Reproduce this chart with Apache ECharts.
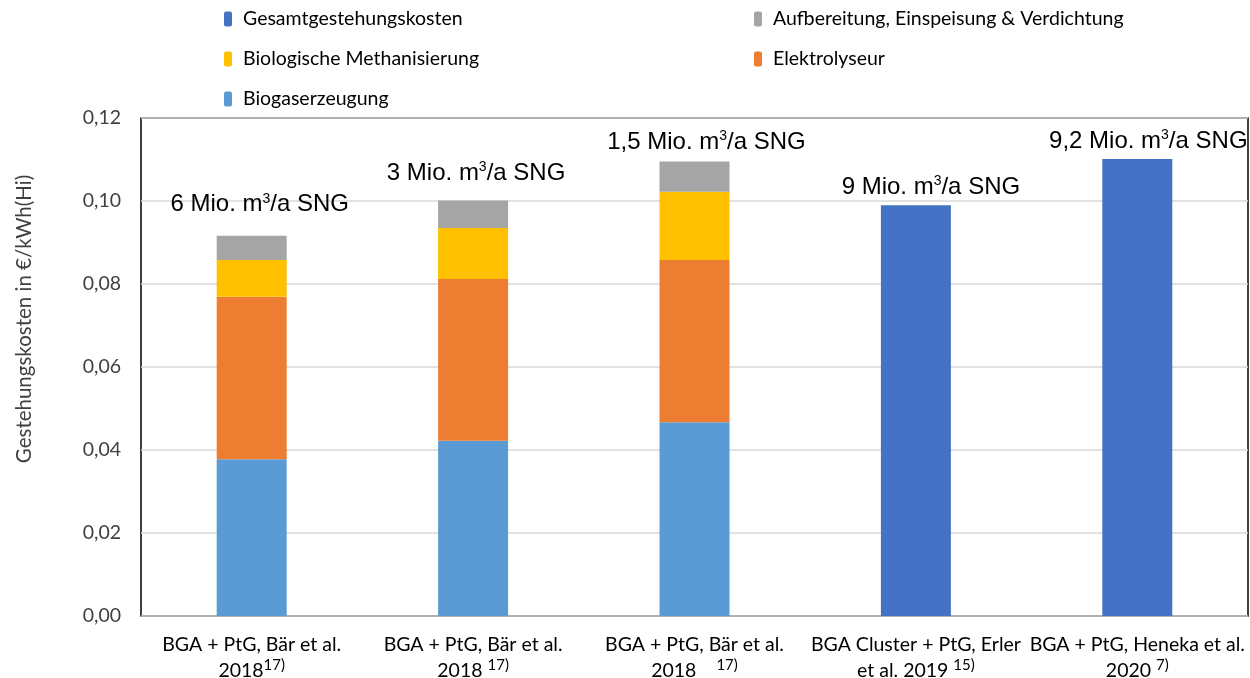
<!DOCTYPE html>
<html>
<head>
<meta charset="utf-8">
<script src="https://cdn.jsdelivr.net/npm/echarts@6/dist/echarts.min.js"></script>
<style>
  html, body { margin: 0; padding: 0; background: #ffffff; }
  #chart { width: 1250px; height: 678px; }
</style>
</head>
<body>
<div id="chart"></div>
<script>
// Categories (x axis), with reference superscripts as rich-text tokens
const categories = [
  'BGA + PtG, Bär et al.\n2018{sup|17)}',
  'BGA + PtG, Bär et al.\n2018 {sup|17)}',
  'BGA + PtG, Bär et al.\n2018    {sup|17)}',
  'BGA Cluster + PtG, Erler\net al. 2019 {sup|15)}',
  'BGA + PtG, Heneka et al.\n2020 {sup|7)}'
];

// Cost components in €/kWh(Hi)
const biogaserzeugung = [0.0378, 0.0422, 0.0467, null, null];
const elektrolyseur   = [0.0391, 0.0390, 0.0391, null, null];
const methanisierung  = [0.0089, 0.0123, 0.0164, null, null];
const aufbereitung    = [0.0058, 0.0066, 0.0073, null, null];
const gesamt          = [null, null, null, 0.0990, 0.1101];

// Plant size annotations above each bar
const capacityLabels = [
  '6 Mio. m{sup|3}/a SNG',
  '3 Mio. m{sup|3}/a SNG',
  '1,5 Mio. m{sup|3}/a SNG',
  '9 Mio. m{sup|3}/a SNG',
  '9,2 Mio. m{sup|3}/a SNG'
];

const yTicks = { min: 0, max: 0.12, interval: 0.02 };

// Label placement tweaks (pixels) for the annotations
const labelShift = [[8, -13], [3, -9], [12, -1], [15, 0], [11, 0]];

const names = {
  gesamt: 'Gesamtgestehungskosten',
  auf: 'Aufbereitung, Einspeisung & Verdichtung',
  meth: 'Biologische Methanisierung',
  elek: 'Elektrolyseur',
  bio: 'Biogaserzeugung'
};
const colors = {
  gesamt: '#4472C4',
  auf: '#A5A5A5',
  meth: '#FFC000',
  elek: '#ED7D31',
  bio: '#5B9BD5'
};

const annoRich = {
  a: { fontFamily: 'Liberation Sans', fontSize: 24, color: '#000', lineHeight: 26 },
  sup: { fontFamily: 'Liberation Sans', fontSize: 14, color: '#000', lineHeight: 14, verticalAlign: 'top' }
};

function withAnnotations(values) {
  return values.map((v, i) => {
    if (v == null) return v;
    return {
      value: v,
      label: {
        show: true,
        position: 'top',
        offset: labelShift[i],
        formatter: '{a|' + capacityLabels[i].replace('{sup|3}', '}{sup|3}{a|') + '}',
        rich: annoRich
      }
    };
  });
}

const legendFont = { fontFamily: 'Lato', fontSize: 19.5, lineHeight: 20, color: '#000', padding: [0, 0, 0, 6] };
function legendAt(name, left, top) {
  return {
    data: [name],
    left: left,
    top: top,
    padding: 0,
    itemWidth: 8,
    itemHeight: 15,
    itemGap: 0,
    textStyle: legendFont,
    selectedMode: false
  };
}

const barWidth = 70;
function barSeries(key, data) {
  return {
    name: names[key],
    type: 'bar',
    stack: 'kosten',
    barWidth: barWidth,
    data: data,
    itemStyle: { color: colors[key] },
    emphasis: { disabled: true }
  };
}

const chart = echarts.init(document.getElementById('chart'));
chart.setOption({
  animation: false,
  backgroundColor: '#ffffff',
  legend: [
    legendAt(names.gesamt, 224, 9),
    legendAt(names.auf, 754, 9),
    legendAt(names.meth, 224, 49),
    legendAt(names.elek, 754, 49),
    legendAt(names.bio, 224, 89)
  ],
  grid: {
    left: 141, right: 2, top: 118, bottom: 62,
    outerBoundsMode: 'none',
    containLabel: false,
    show: true,
    borderColor: '#000',
    borderWidth: 1.5,
    backgroundColor: 'transparent'
  },
  xAxis: {
    type: 'category',
    data: categories,
    axisLine: { show: false },
    axisTick: { show: false },
    axisLabel: {
      interval: 0,
      margin: 16,
      lineHeight: 26,
      fontFamily: 'Lato',
      fontSize: 19.5,
      color: '#000',
      rich: {
        sup: { fontFamily: 'Lato', fontSize: 15, color: '#000', lineHeight: 15, verticalAlign: 'top' }
      }
    }
  },
  yAxis: {
    type: 'value',
    min: yTicks.min,
    max: yTicks.max,
    interval: yTicks.interval,
    name: 'Gestehungskosten in €/kWh(Hi)',
    nameLocation: 'middle',
    nameGap: 106,
    // left padding lifts the rotated title above the plot's midpoint
    nameTextStyle: { fontFamily: 'Lato', fontSize: 20.5, color: '#404040', padding: [0, 0, 0, 96] },
    axisLine: { show: false },
    axisTick: { show: false },
    axisLabel: {
      margin: 20,
      fontFamily: 'Lato',
      fontSize: 19.5,
      color: '#404040',
      formatter: v => v.toFixed(2).replace('.', ',')
    },
    splitLine: { lineStyle: { color: '#d9d9d9', width: 1.5 } }
  },
  series: [
    barSeries('bio', biogaserzeugung),
    barSeries('elek', elektrolyseur),
    barSeries('meth', methanisierung),
    barSeries('auf', withAnnotations(aufbereitung)),
    barSeries('gesamt', withAnnotations(gesamt))
  ]
});
</script>
</body>
</html>
